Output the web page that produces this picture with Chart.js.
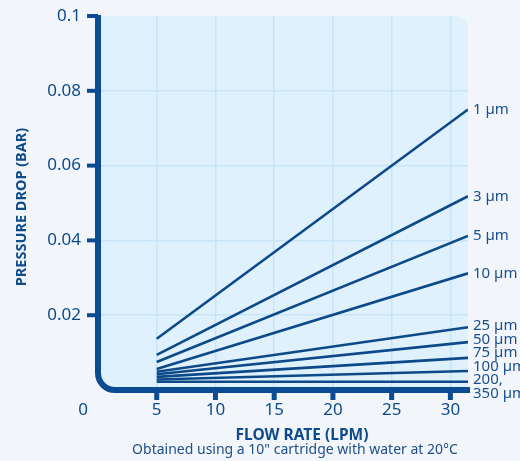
<!DOCTYPE html>
<html>
<head>
<meta charset="utf-8">
<script src="https://cdn.jsdelivr.net/npm/chart.js@4.4.1/dist/chart.umd.min.js"></script>
<style>
  html, body { margin: 0; padding: 0; background: #f2f6fb; }
  canvas { display: block; }
</style>
</head>
<body>
<canvas id="c" width="520" height="461"></canvas>
<script>
// ---- data ----
const seriesLabels = [["1 µm"], ["3 µm"], ["5 µm"], ["10 µm"], ["25 µm"], ["50 µm"], ["75 µm"], ["100 µm"], ["200,", "350 µm"]];
const flowRates = [5, 31.5];
const dropAt5 = [0.0137, 0.0094, 0.0075, 0.0056, 0.0049, 0.0042, 0.0035, 0.0028, 0.0022];
const dropAtEnd = [0.0750, 0.0518, 0.0412, 0.0312, 0.0168, 0.0128, 0.0086, 0.0051, 0.0022];
const xTicks = [0, 5, 10, 15, 20, 25, 30];
const yTicks = [0, 0.02, 0.04, 0.06, 0.08, 0.1];
const xTitle = "FLOW RATE (LPM)";
const yTitle = "PRESSURE DROP (BAR)";
const footnote = 'Obtained using a 10" cartridge with water at 20°C';

// ---- style ----
const NAVY = '#0d4b8c';
const AXIS = '#0a4b93';
const GRID = '#c8e5f8';
const PLOT_BG = '#dff1fd';
const FONT = "'Noto Sans', 'Open Sans', sans-serif";

const datasets = seriesLabels.map((lab, i) => ({
  label: lab.join(' '),
  data: [{x: flowRates[0], y: dropAt5[i]}, {x: flowRates[1], y: dropAtEnd[i]}],
  borderColor: '#0d4989',
  borderWidth: 2.6,
  pointRadius: 0,
  tension: 0,
  fill: false
}));

const decor = {
  id: 'decor',
  beforeDraw(chart) {
    const {ctx, chartArea: a} = chart;
    const r = 12, R = 17;
    ctx.save();
    ctx.fillStyle = PLOT_BG;
    ctx.beginPath();
    ctx.moveTo(a.left, a.top);
    ctx.lineTo(a.right - r, a.top);
    ctx.arcTo(a.right, a.top, a.right, a.top + r, r);
    ctx.lineTo(a.right, a.bottom);
    ctx.lineTo(a.left + R, a.bottom);
    ctx.arcTo(a.left, a.bottom, a.left, a.bottom - R, R);
    ctx.closePath();
    ctx.fill();
    ctx.restore();
  },
  afterDatasetsDraw(chart) {
    const {ctx, chartArea: a, scales: {x, y}} = chart;
    const R = 17;
    ctx.save();
    // axes with rounded corner
    ctx.strokeStyle = AXIS;
    ctx.lineWidth = 6;
    ctx.beginPath();
    ctx.moveTo(a.left, a.top - 1);
    ctx.lineTo(a.left, a.bottom - R);
    ctx.arcTo(a.left, a.bottom, a.left + R, a.bottom, R);
    ctx.lineTo(a.right + 2, a.bottom);
    ctx.stroke();
    // tick marks
    ctx.fillStyle = AXIS;
    yTicks.forEach(v => {
      if (v === 0) return;
      const py = y.getPixelForValue(v);
      ctx.fillRect(a.left - 11, py - 2, 11, 4);
    });
    xTicks.forEach(v => {
      if (v === 0) return;
      const px = x.getPixelForValue(v);
      ctx.fillRect(px - 2.5, a.bottom, 5, 10);
    });
    // origin label
    ctx.fillStyle = NAVY;
    ctx.font = `17px ${FONT}`;
    ctx.textAlign = 'center';
    ctx.textBaseline = 'middle';
    ctx.fillText('0', a.left - 15, a.bottom + 20);

    // axis titles and footnote
    ctx.font = `bold 15.5px ${FONT}`;
    ctx.fillText(xTitle, (a.left + a.right) / 2 + 19, a.bottom + 46);
    ctx.font = `14px ${FONT}`;
    ctx.fillStyle = '#1d4e86';
    ctx.fillText(footnote, (a.left + a.right) / 2 + 12, a.bottom + 60);
    ctx.save();
    ctx.translate(21.5, (a.top + a.bottom) / 2 + 4);
    ctx.rotate(-Math.PI / 2);
    ctx.fillStyle = NAVY;
    ctx.font = `bold 14.5px ${FONT}`;
    ctx.fillText(yTitle, 0, 0);
    ctx.restore();

    // series labels at line ends, spread to avoid overlap
    const lh = 13.5;
    const items = chart.data.datasets.map((ds, i) => {
      const last = ds.data[ds.data.length - 1];
      return {lines: seriesLabels[i], h: seriesLabels[i].length * lh, c: y.getPixelForValue(last.y)};
    });
    const sorted = items.slice().sort((p, q) => p.c - q.c);
    for (let it = 0; it < 300; it++) {
      for (let k = 0; k < sorted.length - 1; k++) {
        const p = sorted[k], q = sorted[k + 1];
        const need = (p.h + q.h) / 2;
        const gap = q.c - p.c;
        if (gap < need) {
          const d = (need - gap) / 2;
          p.c -= d; q.c += d;
        }
      }
      const lastItem = sorted[sorted.length - 1];
      const maxC = a.bottom + 10 - lastItem.h / 2;
      if (lastItem.c > maxC) lastItem.c = maxC;
    }
    ctx.font = `15px ${FONT}`;
    ctx.fillStyle = '#1a4f8c';
    ctx.textAlign = 'left';
    items.forEach(itm => {
      const top = itm.c - itm.h / 2;
      itm.lines.forEach((t, j) => ctx.fillText(t, a.right + 5, top + lh * (j + 0.5)));
    });
    ctx.restore();
  }
};

new Chart(document.getElementById('c'), {
  type: 'line',
  data: {datasets},
  plugins: [decor],
  options: {
    responsive: false,
    animation: false,
    layout: {padding: {top: 16, right: 52, left: 0, bottom: 0}},
    plugins: {
      legend: {display: false},
      tooltip: {enabled: false}
    },
    scales: {
      x: {
        type: 'linear',
        min: 0,
        max: flowRates[1],
        afterBuildTicks: s => { s.ticks = xTicks.map(v => ({value: v})); },
        afterFit: s => { s.height = 71; s.paddingLeft = 0; s.paddingRight = 0; },
        border: {display: false},
        grid: {
          drawTicks: false,
          lineWidth: 1.5,
          color: c => (c.tick && c.tick.value === 0) ? 'rgba(0,0,0,0)' : GRID
        },
        ticks: {
          padding: 10,
          color: NAVY,
          font: {family: FONT, size: 17},
          callback: v => v === 0 ? '' : String(v),
          maxRotation: 0
        }
      },
      y: {
        type: 'linear',
        min: 0,
        max: 0.1,
        afterBuildTicks: s => { s.ticks = yTicks.map(v => ({value: v})); },
        afterFit: s => { s.width = 98; s.paddingTop = 0; s.paddingBottom = 0; },
        border: {display: false},
        grid: {
          drawTicks: false,
          lineWidth: 1.5,
          color: c => (c.tick && (c.tick.value === 0 || c.tick.value === 0.1)) ? 'rgba(0,0,0,0)' : GRID
        },
        ticks: {
          padding: 17,
          color: NAVY,
          font: {family: FONT, size: 17},
          callback: v => v === 0 ? '' : String(v)
        }
      }
    }
  }
});
</script>
</body>
</html>
